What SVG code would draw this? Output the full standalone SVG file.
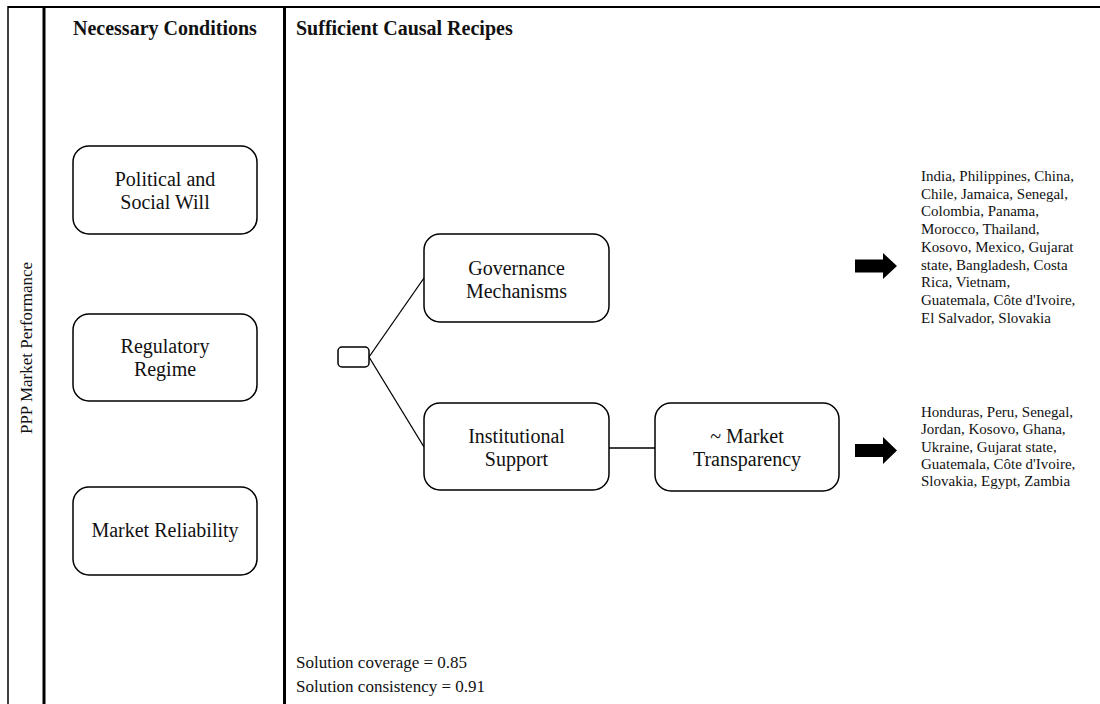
<svg xmlns="http://www.w3.org/2000/svg" width="1100" height="704" viewBox="0 0 1100 704">
<style>
.node{fill:#fff;stroke:#000;stroke-width:1.5}
.t{font-family:"Liberation Serif","Times New Roman",serif;fill:#111}
.nt{font-size:20px;text-anchor:middle}
.h{font-size:20px;font-weight:bold}
.c{font-size:15px}
.s{font-size:17px}
.conn{stroke:#000;stroke-width:1.3;fill:none}
.arrow{fill:#000}
</style>
<rect width="1100" height="704" fill="#fff"/>
<g id="frame" stroke="#000" fill="none">
<line x1="8" y1="7" x2="1100" y2="7" stroke-width="2"/>
<line x1="8" y1="6" x2="8" y2="704" stroke-width="1.5"/>
<line x1="44" y1="6" x2="44" y2="704" stroke-width="3"/>
<line x1="284.5" y1="6" x2="284.5" y2="704" stroke-width="3"/>
</g>
<g id="headings">
<text class="t h" x="73" y="35">Necessary Conditions</text>
<text class="t h" x="296" y="35">Sufficient Causal Recipes</text>
<text class="t s" transform="translate(32,348) rotate(-90)" text-anchor="middle">PPP Market Performance</text>
</g>
<g id="connectors">
<line class="conn" x1="369" y1="357" x2="424" y2="278"/>
<line class="conn" x1="369" y1="357" x2="424" y2="447"/>
<line class="conn" x1="609" y1="448" x2="655" y2="448"/>
</g>
<g id="political">
<rect class="node" x="73" y="146" width="184" height="88" rx="16"/>
<text class="t nt" x="165" y="186">Political and</text>
<text class="t nt" x="165" y="209">Social Will</text>
</g>
<g id="regulatory">
<rect class="node" x="73" y="314" width="184" height="87" rx="16"/>
<text class="t nt" x="165" y="353">Regulatory</text>
<text class="t nt" x="165" y="376">Regime</text>
</g>
<g id="reliability">
<rect class="node" x="73" y="487" width="184" height="88" rx="16"/>
<text class="t nt" x="165" y="537">Market Reliability</text>
</g>
<g id="junction">
<rect class="node" x="338" y="347" width="31" height="20" rx="4"/>
</g>
<g id="governance">
<rect class="node" x="424" y="234" width="185" height="88" rx="16"/>
<text class="t nt" x="516.5" y="275">Governance</text>
<text class="t nt" x="516.5" y="298">Mechanisms</text>
</g>
<g id="institutional">
<rect class="node" x="424" y="403" width="185" height="87" rx="16"/>
<text class="t nt" x="516.5" y="443">Institutional</text>
<text class="t nt" x="516.5" y="466">Support</text>
</g>
<g id="transparency">
<rect class="node" x="655" y="403" width="184" height="88" rx="16"/>
<text class="t nt" x="747" y="443">~ Market</text>
<text class="t nt" x="747" y="466">Transparency</text>
</g>
<g id="arrow1">
<polygon class="arrow" points="855,259.5 883,259.5 883,253 897,266 883,279 883,272.5 855,272.5"/>
</g>
<g id="arrow2">
<polygon class="arrow" points="855,444 883,444 883,437 897,450.5 883,464 883,457 855,457"/>
</g>
<g id="list1">
<text class="t c" x="921" y="181">India, Philippines, China,</text>
<text class="t c" x="921" y="198.7">Chile, Jamaica, Senegal,</text>
<text class="t c" x="921" y="216.4">Colombia, Panama,</text>
<text class="t c" x="921" y="234.1">Morocco, Thailand,</text>
<text class="t c" x="921" y="251.8">Kosovo, Mexico, Gujarat</text>
<text class="t c" x="921" y="269.5">state, Bangladesh, Costa</text>
<text class="t c" x="921" y="287.2">Rica, Vietnam,</text>
<text class="t c" x="921" y="304.9">Guatemala, Côte d'Ivoire,</text>
<text class="t c" x="921" y="322.6">El Salvador, Slovakia</text>
</g>
<g id="list2">
<text class="t c" x="921" y="417">Honduras, Peru, Senegal,</text>
<text class="t c" x="921" y="434.3">Jordan, Kosovo, Ghana,</text>
<text class="t c" x="921" y="451.6">Ukraine, Gujarat state,</text>
<text class="t c" x="921" y="468.9">Guatemala, Côte d'Ivoire,</text>
<text class="t c" x="921" y="486.2">Slovakia, Egypt, Zambia</text>
</g>
<g id="solution">
<text class="t s" x="296" y="668">Solution coverage = 0.85</text>
<text class="t s" x="296" y="692">Solution consistency = 0.91</text>
</g>
</svg>
